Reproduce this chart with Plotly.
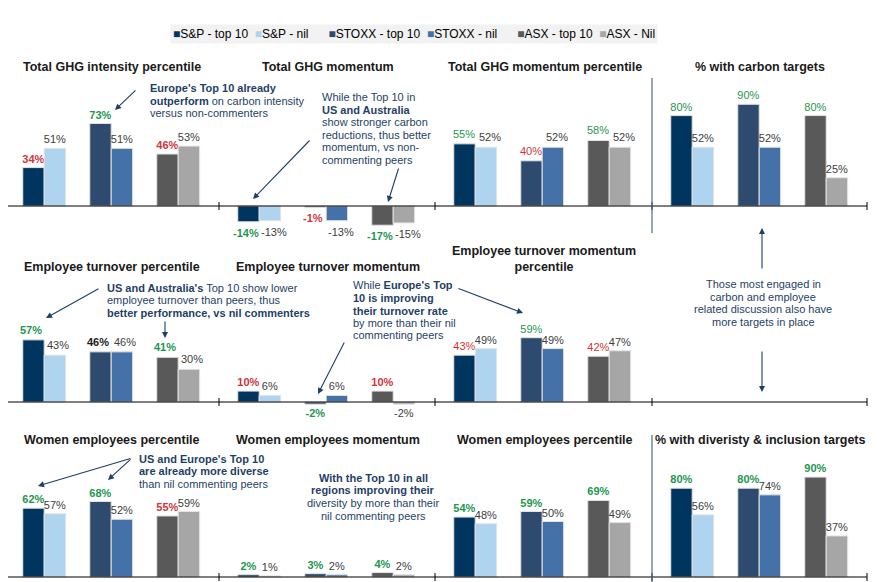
import plotly.graph_objects as go

# series / regions
regions = ["S&P", "STOXX", "ASX"]
series_names = ["S&P - top 10", "S&P - nil", "STOXX - top 10", "STOXX - nil", "ASX - top 10", "ASX - Nil"]
colors = ["#00355F", "#AFD4F0", "#2E4A6E", "#4472A8", "#595959", "#A6A6A6"]

# 3 rows x 4 panels (None = empty panel)
titles = [
    "Total GHG intensity percentile", "Total GHG momentum",
    "Total GHG momentum percentile", "% with carbon targets",
    "Employee turnover percentile", "Employee turnover momentum",
    "Employee turnover momentum<br>percentile", "",
    "Women employees percentile", "Women employees momentum",
    "Women employees percentile", "% with diveristy & inclusion targets",
]
top10 = [
    [34, 73, 46], [-14, -1, -17], [55, 40, 58], [80, 90, 80],
    [57, 46, 41], [10, -2, 10], [43, 59, 42], None,
    [62, 68, 55], [2, 3, 4], [54, 59, 69], [80, 80, 90],
]
nil = [
    [51, 51, 53], [-13, -13, -15], [52, 52, 52], [52, 52, 25],
    [43, 46, 30], [6, 6, -2], [49, 49, 47], None,
    [57, 52, 59], [1, 2, 2], [48, 50, 49], [56, 74, 37],
]
# how the top 10 compares with nil commenters: g = better, r = worse, k = same
top10_tone = [
    "rgr", "grg", "grg", "ggg",
    "gkg", "rgr", "rgr", None,
    "ggr", "ggg", "ggg", "ggg",
]

tone_color = {"g": "#1E9650", "r": "#D0343A", "k": "#1A1A1A"}
plain_labels = {2, 3, 6}   # panels whose top-10 labels are not bold
# panels where the two labels of a pair are pushed apart (px shift top, nil)
spread_labels = {1: (-13, 15), 2: (-11, 15), 4: (-13, 14)}
navy = "#1F3F66"
FONT = "Liberation Sans, Arial"

# the page puts the figure 8px in from the top-left corner
OFF = 8
W, H = 877 - OFF, 582 - OFF

col_px = [4, 219, 435, 652, 867]
unit_px = 67.0           # width of one region slot
zero_px = [206, 402, 577]
scale = [1.13, 1.09, 1.11]
yranges = [(-25, 100), (-25, 100), (-4, 100)]


def px_x(p):
    return (p - OFF) / W


def px_y(p):
    return 1 - (p - OFF) / H


fig = go.Figure()
layout_axes = {}
annotations = []

for p in range(12):
    row, col = divmod(p, 4)
    n = p + 1
    xa = "x" if n == 1 else f"x{n}"
    ya = "y" if n == 1 else f"y{n}"
    lo, hi = yranges[row]
    top_px = zero_px[row] - hi * scale[row]
    bot_px = zero_px[row] - lo * scale[row]
    left = max(col_px[col], OFF)
    c0 = col_px[col] + 0.6 * unit_px
    layout_axes["xaxis" if n == 1 else f"xaxis{n}"] = dict(
        domain=[px_x(left), px_x(col_px[col + 1])], anchor=ya,
        range=[(left - c0) / unit_px, (col_px[col + 1] - c0) / unit_px],
        type="category", categoryorder="array", categoryarray=regions, visible=False)
    layout_axes["yaxis" if n == 1 else f"yaxis{n}"] = dict(
        domain=[px_y(bot_px), px_y(top_px)], anchor=xa,
        range=[lo, hi], visible=False)

    if top10[p] is None:
        continue
    shifts = spread_labels.get(p)
    for i, reg in enumerate(regions):
        tv = top10[p][i]
        nv = nil[p][i]
        tone = tone_color[top10_tone[p][i]]
        tlab = f"{tv}%" if p in plain_labels else f"<b>{tv}%</b>"
        pair = [
            (series_names[2 * i], tv, tlab, tone, "top", colors[2 * i]),
            (series_names[2 * i + 1], nv, f"{nv}%", "#404040", "nil", colors[2 * i + 1]),
        ]
        for k, (name, val, lab, lcol, grp, c) in enumerate(pair):
            fig.add_trace(go.Bar(
                x=[reg], y=[val], name=name, legendgroup=name,
                showlegend=False, offsetgroup=grp,
                marker=dict(color=c, line=dict(color="#E3E3E3", width=1)),
                text=None if shifts else [lab], textposition="outside", cliponaxis=False,
                constraintext="none",
                textfont=dict(color=lcol, size=11, family=FONT),
                xaxis=xa, yaxis=ya, hoverinfo="skip"))
            if shifts:
                annotations.append(dict(
                    text=lab, x=reg, y=val, xref=xa, yref=ya, xshift=shifts[k],
                    yshift=-3 if val < 0 else 2,
                    xanchor="center", yanchor="top" if val < 0 else "bottom",
                    showarrow=False, font=dict(color=lcol, size=11, family=FONT)))

shapes = []
# zero lines and the small ticks at panel edges
for row in range(3):
    zp = zero_px[row]
    shapes.append(dict(type="line", xref="paper", yref="paper",
                       x0=px_x(OFF), x1=px_x(col_px[-1]),
                       y0=px_y(zp), y1=px_y(zp), line=dict(color="#000000", width=1)))
    for cx in col_px[1:]:
        shapes.append(dict(type="line", xref="paper", yref="paper",
                           x0=px_x(cx), x1=px_x(cx), y0=px_y(zp - 4), y1=px_y(zp + 4),
                           line=dict(color="#000000", width=1)))
# separators before the targets column
for y0, y1 in [(78, 233), (435, 582)]:
    shapes.append(dict(type="line", xref="paper", yref="paper",
                       x0=px_x(652), x1=px_x(652), y0=px_y(y0), y1=px_y(y1),
                       line=dict(color="#4F6A8A", width=1.2)))


def note(text, x, y, xanchor="left", size=11, color=navy, **kw):
    annotations.append(dict(text=text, x=px_x(x), y=px_y(y), xref="paper", yref="paper",
                            xanchor=xanchor, yanchor="middle", showarrow=False,
                            align=xanchor if xanchor != "center" else "center",
                            font=dict(size=size, color=color, family=FONT), **kw))


def arrow(head, tail):
    annotations.append(dict(text="", x=px_x(head[0]), y=px_y(head[1]), xref="paper", yref="paper",
                            ax=tail[0] - head[0], ay=tail[1] - head[1], axref="pixel", ayref="pixel",
                            showarrow=True, arrowhead=2, arrowsize=1.1, arrowwidth=1.1,
                            arrowcolor=navy))


# legend strip
legend_txt = ""
for i, (nm, c) in enumerate(zip(series_names, colors)):
    gap = "" if i == 0 else ("\u00a0\u00a0" if i % 2 else "\u00a0" * 6)
    legend_txt += f"{gap}<span style='color:{c}'>■</span>{nm}"
note(legend_txt, 414, 34, xanchor="center", size=12, color="#000000",
     bgcolor="#F2F2F2", borderpad=2)

# panel titles
title_pos = [(112, 67), (328, 67), (545, 67), (760, 67),
             (112, 267), (328, 267), (544, 259), (760, 267),
             (112, 440), (328, 440), (545, 440), (760, 440)]
for t, (tx, ty) in zip(titles, title_pos):
    if t:
        note(f"<b>{t}</b>", tx, ty, xanchor="center", size=12.5, color="#1A1A1A")

# commentary
block = [
    (148, 88, "<b>Europe's Top 10 already</b>"),
    (148, 101, "<b>outperform</b> on carbon intensity"),
    (148, 113, "versus non-commenters"),
    (320, 97, "While the Top 10 in"),
    (320, 110, "<b>US and Australia</b>"),
    (320, 122, "show stronger carbon"),
    (320, 135, "reductions, thus better"),
    (320, 147, "momentum, vs non-"),
    (320, 160, "commenting peers"),
    (105, 288, "<b>US and Australia's</b> Top 10 show lower"),
    (105, 300, "employee turnover than peers, thus"),
    (105, 313, "<b>better performance, vs nil commenters</b>"),
    (351, 285, "While <b>Europe's Top</b>"),
    (351, 298, "<b>10 is improving</b>"),
    (351, 311, "<b>their turnover rate</b>"),
    (351, 323, "by more than their nil"),
    (351, 335, "commenting peers"),
    (137, 459, "<b>US and Europe's Top 10</b>"),
    (137, 471, "<b>are already more diverse</b>"),
    (137, 484, "than nil commenting peers"),
]
for bx, by, bt in block:
    note(bt, bx, by)

for cx, cy, ct in [
    (763, 284, "Those most engaged in"),
    (763, 297, "carbon and employee"),
    (763, 309, "related discussion also have"),
    (763, 322, "more targets in place"),
    (373, 478, "<b>With the Top 10 in all</b>"),
    (373, 490, "<b>regions improving their</b>"),
    (373, 503, "diversity by more than their"),
    (373, 516, "nil commenting peers"),
]:
    note(ct, cx, cy, xanchor="center")

for head, tail in [
    ((115, 110), (137, 89)),
    ((253, 199), (311, 139)),
    ((388, 202), (399, 167)),
    ((762, 228), (762, 270)),
    ((762, 392), (762, 350)),
    ((46, 318), (100, 288)),
    ((165, 338), (165, 320)),
    ((318, 394), (345, 341)),
    ((523, 313), (457, 288)),
    ((38, 486), (132, 458)),
    ((108, 480), (132, 458)),
]:
    arrow(head, tail)

fig.update_layout(
    width=W, height=H,
    margin=dict(l=0, r=0, t=0, b=0),
    paper_bgcolor="white", plot_bgcolor="white",
    barmode="group", bargap=0.36, bargroupgap=0.0,
    font=dict(family=FONT, color="#1A1A1A"),
    showlegend=False,
    shapes=shapes, annotations=annotations,
    **layout_axes,
)

fig.write_html("out.html")
